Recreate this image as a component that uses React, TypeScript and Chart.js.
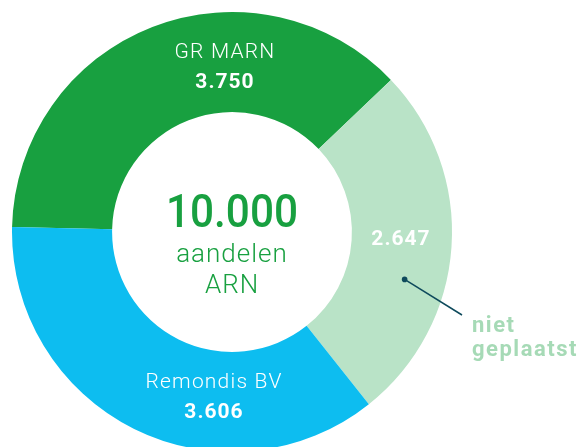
import React, { useEffect, useRef } from "react";
import { Chart, registerables } from "chart.js";

Chart.register(...registerables);

const categories = ["GR MARN", "niet geplaatst", "Remondis BV"];
const shares = [3750, 2647, 3606];
const shareLabels = ["3.750", "2.647", "3.606"];
const totalLabel = "10.000";
const centerLines = ["aandelen", "ARN"];
const calloutLines = ["niet", "geplaatst"];

const colors = ["#18A040", "#B9E3C7", "#0DBDF0"];
const FONT = "Roboto, 'Noto Sans', sans-serif";

// label anchors as offsets from chart centre (style/layout only)
const sliceLabelLayout = [
  { dx: -7, name: { dy: -174, show: true }, value: { dy: -144 } },
  { dx: 169, name: { dy: 0, show: false }, value: { dy: 13 } },
  { dx: -18, name: { dy: 156, show: true }, value: { dy: 186 } },
];

const overlayPlugin = {
  id: "overlay",
  afterDraw(chart: any) {
    const ctx = chart.ctx;
    const meta = chart.getDatasetMeta(0);
    const arc0 = meta.data[0];
    if (!arc0) return;
    const cx = arc0.x;
    const cy = arc0.y;
    ctx.save();
    ctx.textAlign = "center";
    ctx.textBaseline = "alphabetic";

    // centre text
    ctx.fillStyle = "#18A040";
    ctx.font = `500 47px ${FONT}`;
    (ctx as any).letterSpacing = "0px";
    ctx.save();
    ctx.translate(cx, cy - 5);
    ctx.scale(0.9, 1);
    ctx.fillText(totalLabel, 0, 0);
    ctx.restore();
    ctx.font = `300 26px ${FONT}`;
    (ctx as any).letterSpacing = "1px";
    ctx.fillText(centerLines[0], cx, cy + 30);
    ctx.fillText(centerLines[1], cx, cy + 61);

    // slice labels
    ctx.fillStyle = "#FFFFFF";
    categories.forEach((cat, i) => {
      const l = sliceLabelLayout[i];
      if (l.name.show) {
        ctx.font = `300 21px ${FONT}`;
        (ctx as any).letterSpacing = "1.2px";
        ctx.fillText(cat, cx + l.dx, cy + l.name.dy);
      }
      ctx.font = `bold 21px ${FONT}`;
      (ctx as any).letterSpacing = "1px";
      ctx.fillText(shareLabels[i], cx + l.dx, cy + l.value.dy);
    });

    // callout for "niet geplaatst"
    const a = meta.data[1];
    const mid = (a.startAngle + a.endAngle) / 2 + 0.2;
    const r = 179;
    const px = cx + Math.cos(mid) * r;
    const py = cy + Math.sin(mid) * r;
    const ex = cx + 230;
    const ey = cy + 83;
    ctx.strokeStyle = "#0E4A5C";
    ctx.fillStyle = "#0E4A5C";
    ctx.lineWidth = 1.5;
    ctx.beginPath();
    ctx.moveTo(px, py);
    ctx.lineTo(ex, ey);
    ctx.stroke();
    ctx.beginPath();
    ctx.arc(px, py, 2.8, 0, Math.PI * 2);
    ctx.fill();

    ctx.fillStyle = "#A6DAB6";
    ctx.textAlign = "left";
    ctx.font = `bold 22px ${FONT}`;
    (ctx as any).letterSpacing = "1.5px";
    ctx.fillText(calloutLines[0], cx + 240, cy + 100);
    ctx.fillText(calloutLines[1], cx + 240, cy + 124);
    ctx.restore();
  },
};

export default function App() {
  const ref = useRef<HTMLCanvasElement>(null);
  useEffect(() => {
    if (!ref.current) return;
    const chart = new Chart(ref.current, {
      type: "doughnut",
      data: {
        labels: categories,
        datasets: [
          {
            data: shares,
            backgroundColor: colors,
            borderWidth: 0,
            hoverOffset: 0,
          },
        ],
      },
      options: {
        responsive: false,
        animation: false,
        rotation: -88.7,
        cutout: "54.5%",
        layout: { padding: { left: 12, right: 128, top: 12, bottom: 12 } },
        plugins: {
          legend: { display: false },
          tooltip: { enabled: false },
        },
        events: [],
      },
      plugins: [overlayPlugin],
    });
    return () => chart.destroy();
  }, []);
  return (
    <div
      style={{
        position: "absolute",
        left: 0,
        top: 0,
        width: 580,
        height: 447,
        overflow: "hidden",
        background: "#fff",
      }}
    >
      <canvas ref={ref} width={580} height={464} style={{ display: "block" }} />
    </div>
  );
}
